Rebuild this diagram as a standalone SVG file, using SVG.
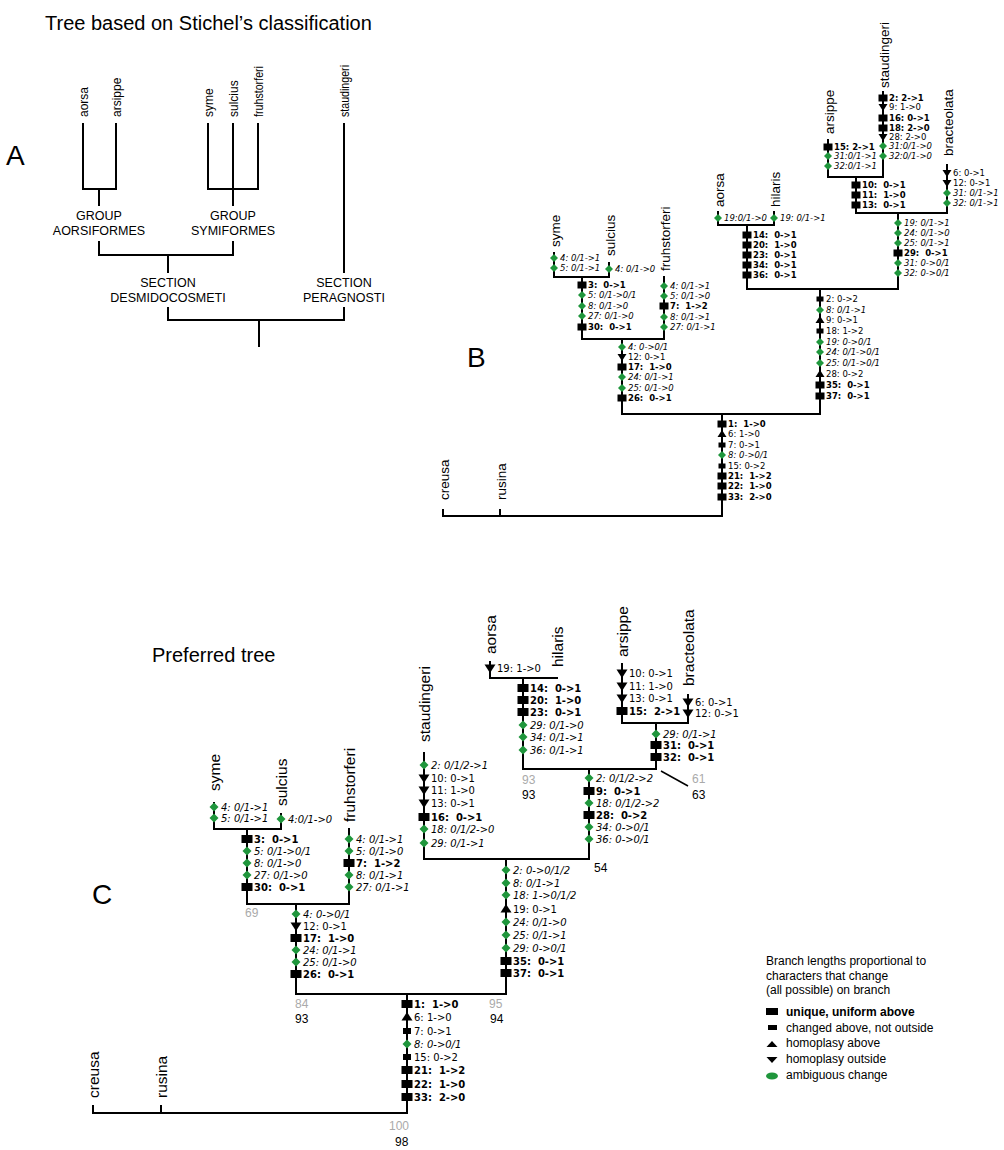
<svg xmlns="http://www.w3.org/2000/svg" width="1004" height="1150" viewBox="0 0 1004 1150">
<style>
.ln{stroke:#000;stroke-width:2;fill:none;stroke-linecap:square}
.tb{font-family:"DejaVu Sans",Verdana,sans-serif;font-size:8.5px;white-space:pre;fill:#000}
.tc{font-family:"DejaVu Sans",Verdana,sans-serif;font-size:10px;white-space:pre;fill:#000}
.b{font-weight:bold}
.i{font-style:italic}
.ar{font-family:"Liberation Sans",Arial,sans-serif;fill:#000}
.ta{font-size:12px}
.tn{font-size:13.5px}
.tp{font-size:15.5px}
.grp{font-size:12.5px;text-anchor:middle}
.ttl{font-size:20px}
.big{font-size:28px}
.bs{font-size:12px}
.gr{fill:#aaaaaa}
.dia{fill:#1f963c}
</style>
<defs>
<rect id="sqB" x="-4.5" y="-3.5" width="9" height="7"/>
<rect id="smB" x="-3.5" y="-2.5" width="7" height="5"/>
<polygon id="upB" points="0,-4 4.5,3 -4.5,3"/>
<polygon id="dnB" points="-4.5,-3 4.5,-3 0,4"/>
<polygon id="diB" class="dia" points="0,-4 4,0 0,4 -4,0"/>
<rect id="sqC" x="-5.5" y="-4" width="11" height="8"/>
<rect id="smC" x="-4" y="-3" width="8" height="6"/>
<polygon id="upC" points="0,-5 5.5,3.5 -5.5,3.5"/>
<polygon id="dnC" points="-5.5,-3.5 5.5,-3.5 0,5"/>
<polygon id="diC" class="dia" points="0,-4.5 4.5,0 0,4.5 -4.5,0"/>
</defs>
<rect width="1004" height="1150" fill="#fff"/>

<!-- ============ PANEL A ============ -->
<g id="panelA">
<text class="ar ttl" x="45" y="30">Tree based on Stichel’s classification</text>
<text class="ar big" x="6" y="165">A</text>
<g id="connectorsA"><path class="ln" d="M83,124V189H116V124 M99,189V205 M208,124V189H258V124 M233,124V205 M99,242V255H233V242 M168,255V272 M344,124V272 M168,308V320H344V308 M259,320V346"/></g>
<g id="A-aorsa"><text class="ar ta" transform="translate(88,117) rotate(-90)">aorsa</text></g>
<g id="A-arsippe"><text class="ar ta" transform="translate(121,117) rotate(-90)">arsippe</text></g>
<g id="A-syme"><text class="ar ta" transform="translate(213,117) rotate(-90)">syme</text></g>
<g id="A-sulcius"><text class="ar ta" transform="translate(238,117) rotate(-90)">sulcius</text></g>
<g id="A-fruhstorferi"><text class="ar ta" transform="translate(263,117) rotate(-90)" textLength="51" lengthAdjust="spacingAndGlyphs">fruhstorferi</text></g>
<g id="A-staudingeri"><text class="ar ta" transform="translate(349,117) rotate(-90)" textLength="52" lengthAdjust="spacingAndGlyphs">staudingeri</text></g>
<g id="A-aorsiformes"><text class="ar grp" x="99" y="220">GROUP</text><text class="ar grp" x="99" y="235">AORSIFORMES</text></g>
<g id="A-symiformes"><text class="ar grp" x="233" y="220">GROUP</text><text class="ar grp" x="233" y="235">SYMIFORMES</text></g>
<g id="A-desmidocosmeti"><text class="ar grp" x="168" y="287">SECTION</text><text class="ar grp" x="168" y="302">DESMIDOCOSMETI</text></g>
<g id="A-peragnosti"><text class="ar grp" x="344" y="287">SECTION</text><text class="ar grp" x="344" y="302">PERAGNOSTI</text></g>
</g>

<!-- ============ PANEL B ============ -->
<g id="panelB">
<text class="ar big" x="467" y="367">B</text>
<g id="connectorsB"><path class="ln" d="M443,510V516H722 M500,510V516 M722,516V414 M622,414H820 M622,414V339 M582,339H664 M582,339V277 M554,277H609 M554,277V253 M609,277V263 M664,339V277 M820,414V289 M747,289H898 M747,289V225 M718,225H774 M718,225V212 M774,225V212 M898,289V213 M856,213H947 M856,213V177 M828,177H883 M828,177V140 M883,177V92 M947,213V165"/></g>

<g id="B-creusa"><text class="ar tn" transform="translate(449,500) rotate(-90)">creusa</text></g>
<g id="B-rusina"><text class="ar tn" transform="translate(506,500) rotate(-90)">rusina</text></g>

<g id="B-root">
<use href="#sqB" x="722" y="424"/><text class="tb b" x="728" y="427">1:  1-&gt;0</text>
<use href="#upB" x="722" y="434"/><text class="tb" x="728" y="437">6: 1-&gt;0</text>
<use href="#smB" x="722" y="445"/><text class="tb" x="728" y="448">7: 0-&gt;1</text>
<use href="#diB" x="722" y="455"/><text class="tb i" x="728" y="458">8: 0-&gt;0/1</text>
<use href="#smB" x="722" y="466"/><text class="tb" x="728" y="469">15: 0-&gt;2</text>
<use href="#sqB" x="722" y="476"/><text class="tb b" x="728" y="479">21:  1-&gt;2</text>
<use href="#sqB" x="722" y="486"/><text class="tb b" x="728" y="489">22:  1-&gt;0</text>
<use href="#sqB" x="722" y="497"/><text class="tb b" x="728" y="500">33:  2-&gt;0</text>
</g>

<g id="B-symiformes">
<use href="#diB" x="622" y="347"/><text class="tb i" x="628" y="350">4: 0-&gt;0/1</text>
<use href="#dnB" x="622" y="357"/><text class="tb" x="628" y="360">12: 0-&gt;1</text>
<use href="#sqB" x="622" y="367"/><text class="tb b" x="628" y="370">17:  1-&gt;0</text>
<use href="#diB" x="622" y="377"/><text class="tb i" x="628" y="380">24: 0/1-&gt;1</text>
<use href="#diB" x="622" y="388"/><text class="tb i" x="628" y="391">25: 0/1-&gt;0</text>
<use href="#sqB" x="622" y="398"/><text class="tb b" x="628" y="401">26:  0-&gt;1</text>
</g>

<g id="B-syme-sulcius">
<use href="#sqB" x="582" y="285"/><text class="tb b" x="588" y="288">3:  0-&gt;1</text>
<use href="#diB" x="582" y="295"/><text class="tb i" x="588" y="298">5: 0/1-&gt;0/1</text>
<use href="#diB" x="582" y="306"/><text class="tb i" x="588" y="309">8: 0/1-&gt;0</text>
<use href="#diB" x="582" y="316"/><text class="tb i" x="588" y="319">27: 0/1-&gt;0</text>
<use href="#sqB" x="582" y="327"/><text class="tb b" x="588" y="330">30:  0-&gt;1</text>
</g>

<g id="B-syme">
<text class="ar tn" transform="translate(560,247) rotate(-90)">syme</text>
<use href="#diB" x="554" y="258"/><text class="tb i" x="560" y="261">4: 0/1-&gt;1</text>
<use href="#diB" x="554" y="268"/><text class="tb i" x="560" y="271">5: 0/1-&gt;1</text>
</g>

<g id="B-sulcius">
<text class="ar tn" transform="translate(615,256) rotate(-90)">sulcius</text>
<use href="#diB" x="609" y="269"/><text class="tb i" x="615" y="272">4: 0/1-&gt;0</text>
</g>

<g id="B-fruhstorferi">
<text class="ar tn" transform="translate(670,271) rotate(-90)">fruhstorferi</text>
<use href="#diB" x="664" y="286"/><text class="tb i" x="670" y="289">4: 0/1-&gt;1</text>
<use href="#diB" x="664" y="296"/><text class="tb i" x="670" y="299">5: 0/1-&gt;0</text>
<use href="#sqB" x="664" y="306"/><text class="tb b" x="670" y="309">7:  1-&gt;2</text>
<use href="#diB" x="664" y="317"/><text class="tb i" x="670" y="320">8: 0/1-&gt;1</text>
<use href="#diB" x="664" y="327"/><text class="tb i" x="670" y="330">27: 0/1-&gt;1</text>
</g>

<g id="B-right-clade">
<use href="#smB" x="820" y="299"/><text class="tb" x="826" y="302">2: 0-&gt;2</text>
<use href="#diB" x="820" y="310"/><text class="tb i" x="826" y="313">8: 0/1-&gt;1</text>
<use href="#upB" x="820" y="320"/><text class="tb" x="826" y="323">9: 0-&gt;1</text>
<use href="#smB" x="820" y="331"/><text class="tb" x="826" y="334">18: 1-&gt;2</text>
<use href="#diB" x="820" y="342"/><text class="tb i" x="826" y="345">19: 0-&gt;0/1</text>
<use href="#diB" x="820" y="352"/><text class="tb i" x="826" y="355">24: 0/1-&gt;0/1</text>
<use href="#diB" x="820" y="363"/><text class="tb i" x="826" y="366">25: 0/1-&gt;0/1</text>
<use href="#upB" x="820" y="374"/><text class="tb" x="826" y="377">28: 0-&gt;2</text>
<use href="#sqB" x="820" y="385"/><text class="tb b" x="826" y="388">35:  0-&gt;1</text>
<use href="#sqB" x="820" y="396"/><text class="tb b" x="826" y="399">37:  0-&gt;1</text>
</g>

<g id="B-aorsa-hilaris">
<use href="#sqB" x="747" y="235"/><text class="tb b" x="753" y="238">14:  0-&gt;1</text>
<use href="#sqB" x="747" y="245"/><text class="tb b" x="753" y="248">20:  1-&gt;0</text>
<use href="#sqB" x="747" y="255"/><text class="tb b" x="753" y="258">23:  0-&gt;1</text>
<use href="#sqB" x="747" y="265"/><text class="tb b" x="753" y="268">34:  0-&gt;1</text>
<use href="#sqB" x="747" y="275"/><text class="tb b" x="753" y="278">36:  0-&gt;1</text>
</g>

<g id="B-aorsa">
<text class="ar tn" transform="translate(724,207) rotate(-90)">aorsa</text>
<use href="#diB" x="718" y="218"/><text class="tb i" x="724" y="221">19:0/1-&gt;0</text>
</g>

<g id="B-hilaris">
<text class="ar tn" transform="translate(780,207) rotate(-90)">hilaris</text>
<use href="#diB" x="774" y="218"/><text class="tb i" x="780" y="221">19: 0/1-&gt;1</text>
</g>

<g id="B-arsippe-clade">
<use href="#diB" x="898" y="223"/><text class="tb i" x="904" y="226">19: 0/1-&gt;1</text>
<use href="#diB" x="898" y="233"/><text class="tb i" x="904" y="236">24: 0/1-&gt;0</text>
<use href="#diB" x="898" y="243"/><text class="tb i" x="904" y="246">25: 0/1-&gt;1</text>
<use href="#sqB" x="898" y="253"/><text class="tb b" x="904" y="256">29:  0-&gt;1</text>
<use href="#diB" x="898" y="263"/><text class="tb i" x="904" y="266">31: 0-&gt;0/1</text>
<use href="#diB" x="898" y="273"/><text class="tb i" x="904" y="276">32: 0-&gt;0/1</text>
</g>

<g id="B-arsippe-staudingeri">
<use href="#sqB" x="856" y="185"/><text class="tb b" x="862" y="188">10:  0-&gt;1</text>
<use href="#sqB" x="856" y="195"/><text class="tb b" x="862" y="198">11:  1-&gt;0</text>
<use href="#sqB" x="856" y="205"/><text class="tb b" x="862" y="208">13:  0-&gt;1</text>
</g>

<g id="B-arsippe">
<text class="ar tn" transform="translate(834,134) rotate(-90)">arsippe</text>
<use href="#sqB" x="828" y="147"/><text class="tb b" x="834" y="150">15: 2-&gt;1</text>
<use href="#diB" x="828" y="156"/><text class="tb i" x="834" y="159">31:0/1-&gt;1</text>
<use href="#diB" x="828" y="166"/><text class="tb i" x="834" y="169">32:0/1-&gt;1</text>
</g>

<g id="B-staudingeri">
<text class="ar tn" transform="translate(889,88) rotate(-90)">staudingeri</text>
<use href="#sqB" x="883" y="98"/><text class="tb b" x="889" y="101">2: 2-&gt;1</text>
<use href="#dnB" x="883" y="107"/><text class="tb" x="889" y="110">9: 1-&gt;0</text>
<use href="#sqB" x="883" y="118"/><text class="tb b" x="889" y="121">16: 0-&gt;1</text>
<use href="#sqB" x="883" y="128"/><text class="tb b" x="889" y="131">18: 2-&gt;0</text>
<use href="#dnB" x="883" y="137"/><text class="tb" x="889" y="140">28: 2-&gt;0</text>
<use href="#diB" x="883" y="146"/><text class="tb i" x="889" y="149">31:0/1-&gt;0</text>
<use href="#diB" x="883" y="156"/><text class="tb i" x="889" y="159">32:0/1-&gt;0</text>
</g>

<g id="B-bracteolata">
<text class="ar tn" transform="translate(953,156) rotate(-90)">bracteolata</text>
<use href="#dnB" x="947" y="173"/><text class="tb" x="953" y="176">6: 0-&gt;1</text>
<use href="#dnB" x="947" y="183"/><text class="tb" x="953" y="186">12: 0-&gt;1</text>
<use href="#diB" x="947" y="193"/><text class="tb i" x="953" y="196">31: 0/1-&gt;1</text>
<use href="#diB" x="947" y="203"/><text class="tb i" x="953" y="206">32: 0/1-&gt;1</text>
</g>
</g>

<!-- ============ PANEL C ============ -->
<g id="panelC">
<text class="ar ttl" x="152" y="662">Preferred tree</text>
<text class="ar big" x="92" y="904">C</text>
<g id="connectorsC">
<path class="ln" d="M93,1106V1113H407 M161,1106V1113 M407,1113V994 M296,994H506 M296,994V904 M247,904H349 M247,904V829 M214,829H281 M214,829V803 M281,829V814 M349,904V829 M506,994V859 M424,859H589 M424,859V753 M589,859V769 M523,769H656 M523,769V678 M490,678H557 M490,678V662 M656,769V723 M622,723H688 M622,723V664 M688,723V695"/>
<path d="M661,771L688,786" stroke="#000" stroke-width="1.5" fill="none"/>
</g>

<g id="C-creusa"><text class="ar tp" transform="translate(99,1098) rotate(-90)">creusa</text></g>
<g id="C-rusina"><text class="ar tp" transform="translate(167,1098) rotate(-90)">rusina</text></g>

<g id="C-root">
<use href="#sqC" x="407" y="1004"/><text class="tc b" x="414" y="1008">1:  1-&gt;0</text>
<use href="#upC" x="407" y="1017"/><text class="tc" x="414" y="1021">6: 1-&gt;0</text>
<use href="#smC" x="407" y="1031"/><text class="tc" x="414" y="1035">7: 0-&gt;1</text>
<use href="#diC" x="407" y="1044"/><text class="tc i" x="414" y="1048">8: 0-&gt;0/1</text>
<use href="#smC" x="407" y="1057"/><text class="tc" x="414" y="1061">15: 0-&gt;2</text>
<use href="#sqC" x="407" y="1070"/><text class="tc b" x="414" y="1074">21:  1-&gt;2</text>
<use href="#sqC" x="407" y="1084"/><text class="tc b" x="414" y="1088">22:  1-&gt;0</text>
<use href="#sqC" x="407" y="1097"/><text class="tc b" x="414" y="1101">33:  2-&gt;0</text>
<text class="ar bs gr" x="389" y="1130">100</text>
<text class="ar bs" x="395" y="1146">98</text>
</g>

<g id="C-symiformes">
<use href="#diC" x="296" y="914"/><text class="tc i" x="303" y="918">4: 0-&gt;0/1</text>
<use href="#dnC" x="296" y="926"/><text class="tc" x="303" y="930">12: 0-&gt;1</text>
<use href="#sqC" x="296" y="938"/><text class="tc b" x="303" y="942">17:  1-&gt;0</text>
<use href="#diC" x="296" y="950"/><text class="tc i" x="303" y="954">24: 0/1-&gt;1</text>
<use href="#diC" x="296" y="962"/><text class="tc i" x="303" y="966">25: 0/1-&gt;0</text>
<use href="#sqC" x="296" y="974"/><text class="tc b" x="303" y="978">26:  0-&gt;1</text>
<text class="ar bs gr" x="295" y="1008">84</text>
<text class="ar bs" x="295" y="1023">93</text>
</g>

<g id="C-syme-sulcius">
<use href="#sqC" x="247" y="839"/><text class="tc b" x="254" y="843">3:  0-&gt;1</text>
<use href="#diC" x="247" y="851"/><text class="tc i" x="254" y="855">5: 0/1-&gt;0/1</text>
<use href="#diC" x="247" y="863"/><text class="tc i" x="254" y="867">8: 0/1-&gt;0</text>
<use href="#diC" x="247" y="875"/><text class="tc i" x="254" y="879">27: 0/1-&gt;0</text>
<use href="#sqC" x="247" y="887"/><text class="tc b" x="254" y="891">30:  0-&gt;1</text>
<text class="ar bs gr" x="245" y="917">69</text>
</g>

<g id="C-syme">
<text class="ar tp" transform="translate(220,791) rotate(-90)">syme</text>
<use href="#diC" x="214" y="807"/><text class="tc i" x="221" y="811">4: 0/1-&gt;1</text>
<use href="#diC" x="214" y="818"/><text class="tc i" x="221" y="822">5: 0/1-&gt;1</text>
</g>

<g id="C-sulcius">
<text class="ar tp" transform="translate(287,806) rotate(-90)">sulcius</text>
<use href="#diC" x="281" y="819"/><text class="tc i" x="288" y="823">4:0/1-&gt;0</text>
</g>

<g id="C-fruhstorferi">
<text class="ar tp" transform="translate(355,822) rotate(-90)">fruhstorferi</text>
<use href="#diC" x="349" y="839"/><text class="tc i" x="356" y="843">4: 0/1-&gt;1</text>
<use href="#diC" x="349" y="851"/><text class="tc i" x="356" y="855">5: 0/1-&gt;0</text>
<use href="#sqC" x="349" y="863"/><text class="tc b" x="356" y="867">7:  1-&gt;2</text>
<use href="#diC" x="349" y="875"/><text class="tc i" x="356" y="879">8: 0/1-&gt;1</text>
<use href="#diC" x="349" y="887"/><text class="tc i" x="356" y="891">27: 0/1-&gt;1</text>
</g>

<g id="C-right-clade">
<use href="#diC" x="506" y="870"/><text class="tc i" x="513" y="874">2: 0-&gt;0/1/2</text>
<use href="#diC" x="506" y="883"/><text class="tc i" x="513" y="887">8: 0/1-&gt;1</text>
<use href="#diC" x="506" y="895"/><text class="tc i" x="513" y="899">18: 1-&gt;0/1/2</text>
<use href="#upC" x="506" y="909"/><text class="tc" x="513" y="913">19: 0-&gt;1</text>
<use href="#diC" x="506" y="922"/><text class="tc i" x="513" y="926">24: 0/1-&gt;0</text>
<use href="#diC" x="506" y="935"/><text class="tc i" x="513" y="939">25: 0/1-&gt;1</text>
<use href="#diC" x="506" y="948"/><text class="tc i" x="513" y="952">29: 0-&gt;0/1</text>
<use href="#sqC" x="506" y="961"/><text class="tc b" x="513" y="965">35:  0-&gt;1</text>
<use href="#sqC" x="506" y="973"/><text class="tc b" x="513" y="977">37:  0-&gt;1</text>
<text class="ar bs gr" x="489" y="1008">95</text>
<text class="ar bs" x="490" y="1023">94</text>
</g>

<g id="C-staudingeri">
<text class="ar tp" transform="translate(430,742) rotate(-90)">staudingeri</text>
<use href="#diC" x="424" y="765"/><text class="tc i" x="431" y="769">2: 0/1/2-&gt;1</text>
<use href="#dnC" x="424" y="778"/><text class="tc" x="431" y="782">10: 0-&gt;1</text>
<use href="#dnC" x="424" y="790"/><text class="tc" x="431" y="794">11: 1-&gt;0</text>
<use href="#dnC" x="424" y="803"/><text class="tc" x="431" y="807">13: 0-&gt;1</text>
<use href="#sqC" x="424" y="817"/><text class="tc b" x="431" y="821">16:  0-&gt;1</text>
<use href="#diC" x="424" y="829"/><text class="tc i" x="431" y="833">18: 0/1/2-&gt;0</text>
<use href="#diC" x="424" y="843"/><text class="tc i" x="431" y="847">29: 0/1-&gt;1</text>
</g>

<g id="C-aorsa-arsippe-clade">
<use href="#diC" x="589" y="778"/><text class="tc i" x="596" y="782">2: 0/1/2-&gt;2</text>
<use href="#sqC" x="589" y="791"/><text class="tc b" x="596" y="795">9:  0-&gt;1</text>
<use href="#diC" x="589" y="803"/><text class="tc i" x="596" y="807">18: 0/1/2-&gt;2</text>
<use href="#sqC" x="589" y="815"/><text class="tc b" x="596" y="819">28:  0-&gt;2</text>
<use href="#diC" x="589" y="827"/><text class="tc i" x="596" y="831">34: 0-&gt;0/1</text>
<use href="#diC" x="589" y="839"/><text class="tc i" x="596" y="843">36: 0-&gt;0/1</text>
<text class="ar bs" x="594" y="872">54</text>
</g>

<g id="C-aorsa-hilaris">
<use href="#sqC" x="523" y="688"/><text class="tc b" x="530" y="692">14:  0-&gt;1</text>
<use href="#sqC" x="523" y="700"/><text class="tc b" x="530" y="704">20:  1-&gt;0</text>
<use href="#sqC" x="523" y="712"/><text class="tc b" x="530" y="716">23:  0-&gt;1</text>
<use href="#diC" x="523" y="725"/><text class="tc i" x="530" y="729">29: 0/1-&gt;0</text>
<use href="#diC" x="523" y="737"/><text class="tc i" x="530" y="741">34: 0/1-&gt;1</text>
<use href="#diC" x="523" y="750"/><text class="tc i" x="530" y="754">36: 0/1-&gt;1</text>
<text class="ar bs gr" x="522" y="784">93</text>
<text class="ar bs" x="522" y="799">93</text>
</g>

<g id="C-aorsa">
<text class="ar tp" transform="translate(496,654) rotate(-90)">aorsa</text>
<use href="#dnC" x="490" y="668"/><text class="tc" x="497" y="672">19: 1-&gt;0</text>
</g>

<g id="C-hilaris">
<text class="ar tp" transform="translate(563,667) rotate(-90)">hilaris</text>
</g>

<g id="C-arsippe-bracteolata">
<use href="#diC" x="656" y="734"/><text class="tc i" x="663" y="738">29: 0/1-&gt;1</text>
<use href="#sqC" x="656" y="745"/><text class="tc b" x="663" y="749">31:  0-&gt;1</text>
<use href="#sqC" x="656" y="757"/><text class="tc b" x="663" y="761">32:  0-&gt;1</text>
<text class="ar bs gr" x="692" y="783">61</text>
<text class="ar bs" x="692" y="799">63</text>
</g>

<g id="C-arsippe">
<text class="ar tp" transform="translate(628,657) rotate(-90)">arsippe</text>
<use href="#dnC" x="622" y="673"/><text class="tc" x="629" y="677">10: 0-&gt;1</text>
<use href="#dnC" x="622" y="686"/><text class="tc" x="629" y="690">11: 1-&gt;0</text>
<use href="#dnC" x="622" y="698"/><text class="tc" x="629" y="702">13: 0-&gt;1</text>
<use href="#sqC" x="622" y="711"/><text class="tc b" x="629" y="715">15:  2-&gt;1</text>
</g>

<g id="C-bracteolata">
<text class="ar tp" transform="translate(694,686) rotate(-90)">bracteolata</text>
<use href="#dnC" x="688" y="702"/><text class="tc" x="695" y="706">6: 0-&gt;1</text>
<use href="#dnC" x="688" y="713"/><text class="tc" x="695" y="717">12: 0-&gt;1</text>
</g>
</g>

<!-- ============ LEGEND ============ -->
<g id="legend">
<text class="ar bs" x="766" y="965">Branch lengths proportional to</text>
<text class="ar bs" x="766" y="980">characters that change</text>
<text class="ar bs" x="766" y="994">(all possible) on branch</text>
<rect x="766" y="1008" width="12" height="7" fill="#000"/>
<text class="ar bs b" x="786" y="1016">unique, uniform above</text>
<rect x="768" y="1025" width="9" height="5" fill="#000"/>
<text class="ar bs" x="786" y="1032">changed above, not outside</text>
<polygon points="772,1041 777.5,1047 766.5,1047" fill="#000"/>
<text class="ar bs" x="786" y="1047">homoplasy above</text>
<polygon points="766.5,1057 777.5,1057 772,1063" fill="#000"/>
<text class="ar bs" x="786" y="1063">homoplasy outside</text>
<ellipse cx="772" cy="1076" rx="6" ry="3.5" class="dia"/>
<text class="ar bs" x="786" y="1079">ambiguous change</text>
</g>
</svg>
